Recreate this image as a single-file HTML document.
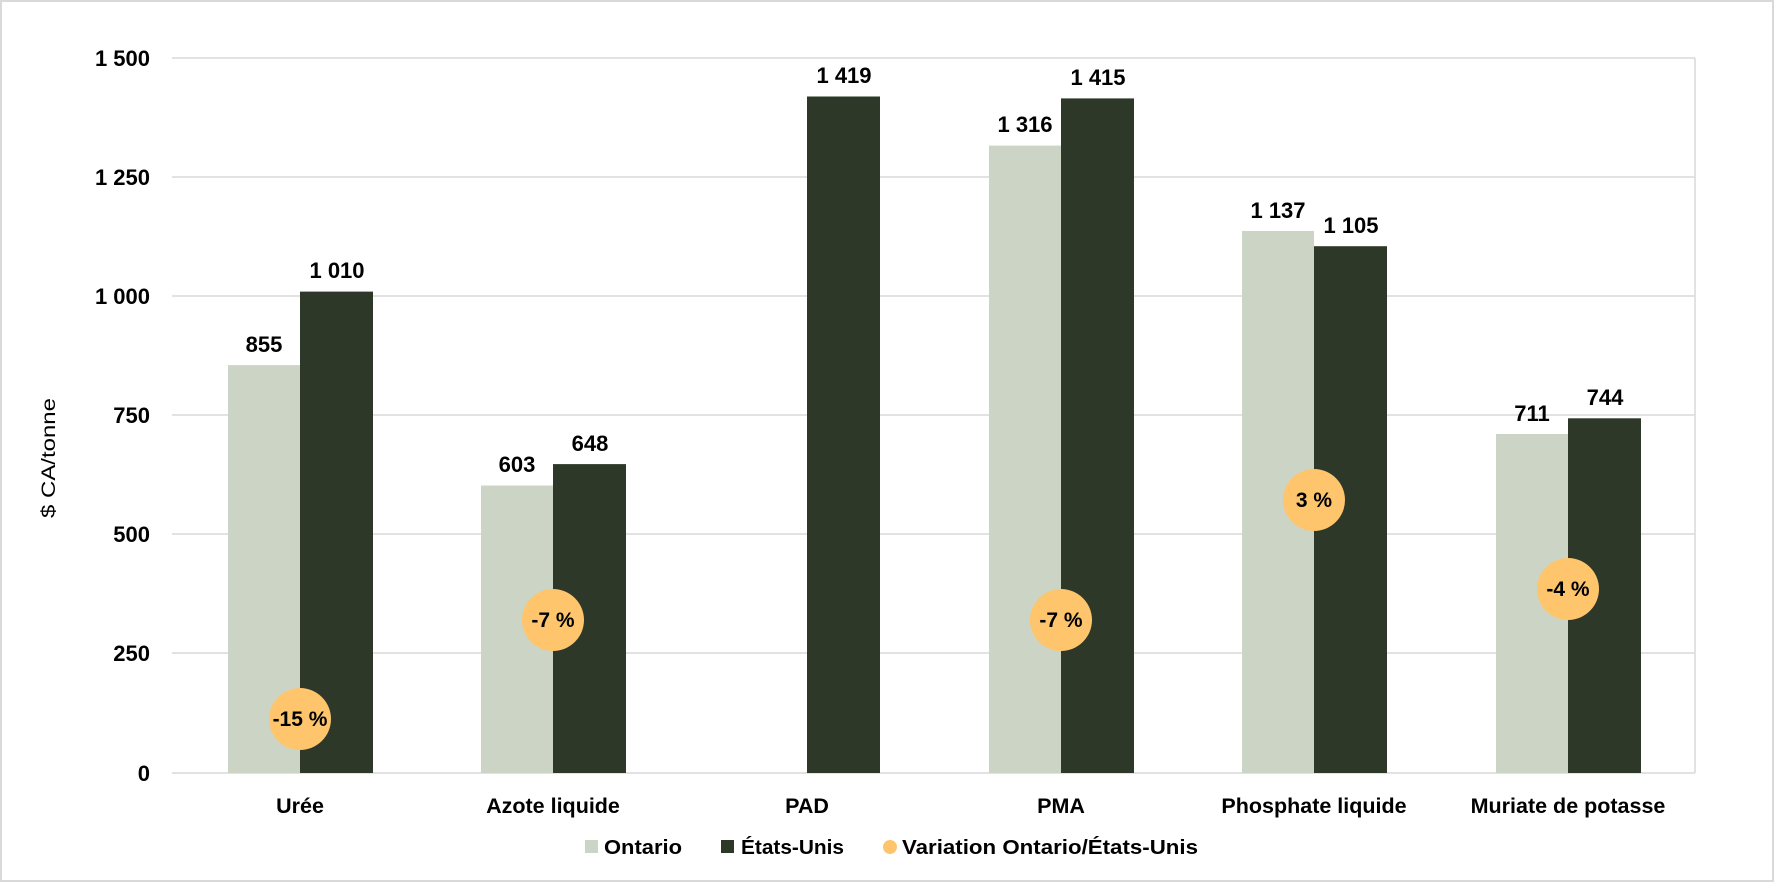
<!DOCTYPE html>
<html><head><meta charset="utf-8"><style>
html,body{margin:0;padding:0;background:#fff;}
svg text{font-family:"Liberation Sans",sans-serif;font-weight:bold;fill:#000;}
</style></head><body>
<svg width="1774" height="882" viewBox="0 0 1774 882" xmlns="http://www.w3.org/2000/svg">
<rect x="1" y="1" width="1772" height="880" fill="#fff" stroke="#d9d9d9" stroke-width="2"/>
<g stroke="#d9d9d9" stroke-width="1.5">
<line x1="172" y1="58" x2="1695" y2="58"/>
<line x1="172" y1="177" x2="1695" y2="177"/>
<line x1="172" y1="296" x2="1695" y2="296"/>
<line x1="172" y1="415" x2="1695" y2="415"/>
<line x1="172" y1="534" x2="1695" y2="534"/>
<line x1="172" y1="653" x2="1695" y2="653"/>
<line x1="172" y1="773" x2="1695" y2="773"/>
<line x1="1695" y1="58" x2="1695" y2="773"/>
</g>
<g font-size="22" text-anchor="end">
<text x="150" y="66">1 500</text>
<text x="150" y="185">1 250</text>
<text x="150" y="304">1 000</text>
<text x="150" y="423">750</text>
<text x="150" y="542">500</text>
<text x="150" y="661">250</text>
<text x="150" y="781">0</text>
</g>
<text transform="translate(55,458) rotate(-90)" text-anchor="middle" font-size="19" style="font-weight:normal" textLength="120" lengthAdjust="spacingAndGlyphs">$ CA/tonne</text>
<g>
<rect x="228" y="365.1" width="72" height="407.9" fill="#ccd5c5"/>
<rect x="300" y="291.6" width="73" height="481.4" fill="#2d3828"/>
<rect x="481" y="485.5" width="72" height="287.5" fill="#ccd5c5"/>
<rect x="553" y="464.1" width="73" height="308.9" fill="#2d3828"/>
<rect x="807" y="96.5" width="73" height="676.5" fill="#2d3828"/>
<rect x="989" y="145.6" width="72" height="627.4" fill="#ccd5c5"/>
<rect x="1061" y="98.4" width="73" height="674.6" fill="#2d3828"/>
<rect x="1242" y="231" width="72" height="542" fill="#ccd5c5"/>
<rect x="1314" y="246.2" width="73" height="526.8" fill="#2d3828"/>
<rect x="1496" y="434" width="72" height="339" fill="#ccd5c5"/>
<rect x="1568" y="418.3" width="73" height="354.7" fill="#2d3828"/>
</g>
<g font-size="22" text-anchor="middle">
<text x="264" y="352">855</text>
<text x="337" y="278">1 010</text>
<text x="517" y="472">603</text>
<text x="590" y="451">648</text>
<text x="844" y="83">1 419</text>
<text x="1025" y="132">1 316</text>
<text x="1098" y="85">1 415</text>
<text x="1278" y="218">1 137</text>
<text x="1351" y="233">1 105</text>
<text x="1532" y="421">711</text>
<text x="1605" y="405">744</text>
</g>
<g fill="#fec56c">
<circle cx="300" cy="719" r="31"/>
<circle cx="553" cy="620" r="31"/>
<circle cx="1061" cy="620" r="31"/>
<circle cx="1314" cy="500" r="31"/>
<circle cx="1568" cy="589" r="31"/>
</g>
<g font-size="21" text-anchor="middle">
<text x="300" y="726">-15 %</text>
<text x="553" y="627">-7 %</text>
<text x="1061" y="627">-7 %</text>
<text x="1314" y="507">3 %</text>
<text x="1568" y="596">-4 %</text>
</g>
<g font-size="21.5" text-anchor="middle">
<text x="300" y="813">Urée</text>
<text x="553" y="813">Azote liquide</text>
<text x="807" y="813">PAD</text>
<text x="1061" y="813">PMA</text>
<text x="1314" y="813">Phosphate liquide</text>
<text x="1568" y="813">Muriate de potasse</text>
</g>
<rect x="585" y="840" width="13" height="13" fill="#ccd5c5"/>
<rect x="721" y="840" width="13" height="13" fill="#2d3828"/>
<circle cx="890" cy="847" r="7" fill="#fec56c"/>
<g font-size="20">
<text x="604" y="854" textLength="78" lengthAdjust="spacingAndGlyphs">Ontario</text>
<text x="741" y="854" textLength="103" lengthAdjust="spacingAndGlyphs">États-Unis</text>
<text x="902" y="854" textLength="296" lengthAdjust="spacingAndGlyphs">Variation Ontario/États-Unis</text>
</g>
</svg>
</body></html>
